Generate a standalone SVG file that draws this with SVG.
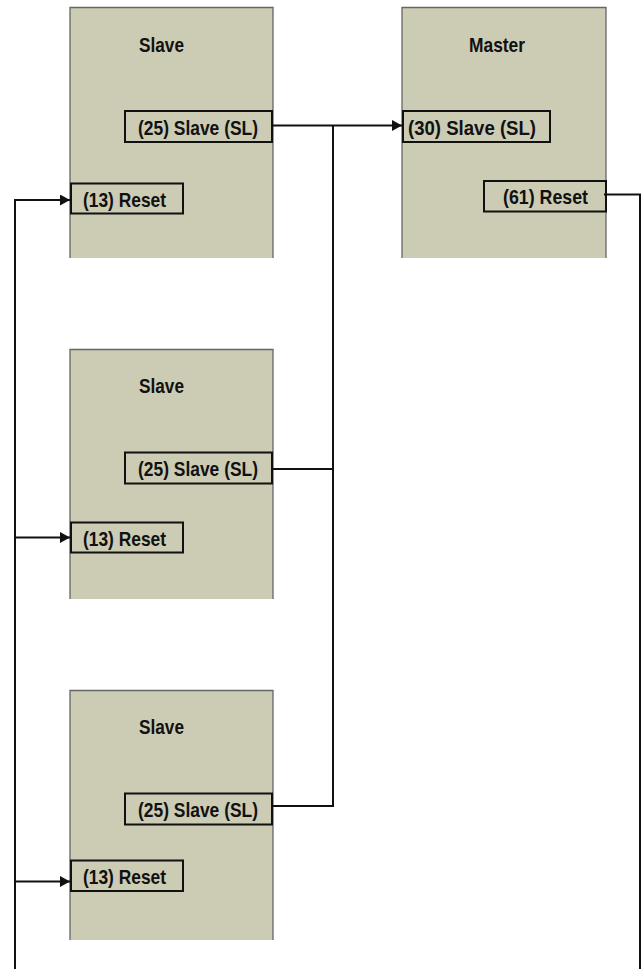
<svg xmlns="http://www.w3.org/2000/svg" width="644" height="969" viewBox="0 0 644 969">
<defs>
<style>
.blk{fill:#cbccb3;stroke:none}
.edge{stroke:#666;stroke-width:1.3;fill:none}
.pin{fill:#cbccb3;stroke:#111;stroke-width:2}
.t{font-family:"Liberation Sans",Arial,sans-serif;font-weight:bold;font-size:21px;fill:#111}
.w{stroke:#111;stroke-width:2;fill:none}
</style>
<marker id="ah" markerUnits="userSpaceOnUse" markerWidth="11" markerHeight="11" refX="10" refY="5.5" orient="auto">
<path d="M0,0 L10,5.5 L0,11 Z" fill="#111"/>
</marker>
</defs>
<g id="slave1">
<rect class="blk" x="70" y="7" width="203" height="251"/>
<path class="edge" d="M70,258 V7.5 H273 V258"/>
<text class="t" x="139" y="51.5" textLength="45" lengthAdjust="spacingAndGlyphs">Slave</text>
<rect class="pin" x="125" y="111" width="147" height="31"/>
<text class="t" x="138" y="134.5" textLength="120" lengthAdjust="spacingAndGlyphs">(25) Slave (SL)</text>
<rect class="pin" x="71" y="183.5" width="112" height="30"/>
<text class="t" x="83" y="206.5" textLength="83" lengthAdjust="spacingAndGlyphs">(13) Reset</text>
</g>
<g id="master">
<rect class="blk" x="402" y="7" width="204" height="251"/>
<path class="edge" d="M402,258 V7.5 H606 V258"/>
<text class="t" x="469" y="51.5" textLength="56" lengthAdjust="spacingAndGlyphs">Master</text>
<rect class="pin" x="403" y="111" width="147" height="31"/>
<text class="t" x="408" y="134.5" textLength="128" lengthAdjust="spacingAndGlyphs">(30) Slave (SL)</text>
<rect class="pin" x="484" y="181" width="122" height="30.5"/>
<text class="t" x="503" y="204" textLength="85" lengthAdjust="spacingAndGlyphs">(61) Reset</text>
</g>
<g id="slave2">
<rect class="blk" x="70" y="349" width="203" height="250"/>
<path class="edge" d="M70,599 V349.5 H273 V599"/>
<text class="t" x="139" y="393" textLength="45" lengthAdjust="spacingAndGlyphs">Slave</text>
<rect class="pin" x="125" y="452.5" width="147" height="31"/>
<text class="t" x="138" y="476" textLength="120" lengthAdjust="spacingAndGlyphs">(25) Slave (SL)</text>
<rect class="pin" x="71" y="522.5" width="112" height="30"/>
<text class="t" x="83" y="545.5" textLength="83" lengthAdjust="spacingAndGlyphs">(13) Reset</text>
</g>
<g id="slave3">
<rect class="blk" x="70" y="690" width="203" height="250"/>
<path class="edge" d="M70,940 V690.5 H273 V940"/>
<text class="t" x="139" y="734" textLength="45" lengthAdjust="spacingAndGlyphs">Slave</text>
<rect class="pin" x="125" y="793.5" width="147" height="31"/>
<text class="t" x="138" y="817" textLength="120" lengthAdjust="spacingAndGlyphs">(25) Slave (SL)</text>
<rect class="pin" x="71" y="860.5" width="112" height="30.5"/>
<text class="t" x="83" y="884" textLength="83" lengthAdjust="spacingAndGlyphs">(13) Reset</text>
</g>
<g id="connectors">
<path class="w" d="M273,125.5 H402" marker-end="url(#ah)"/>
<path class="w" d="M333,125.5 V806 H273"/>
<path class="w" d="M273,469 H333"/>
<path class="w" d="M15,969 V200 H70" marker-end="url(#ah)"/>
<path class="w" d="M15,537.5 H70" marker-end="url(#ah)"/>
<path class="w" d="M15,881.5 H70" marker-end="url(#ah)"/>
<path class="w" d="M604,194.5 H640 V969"/>
</g>
</svg>
